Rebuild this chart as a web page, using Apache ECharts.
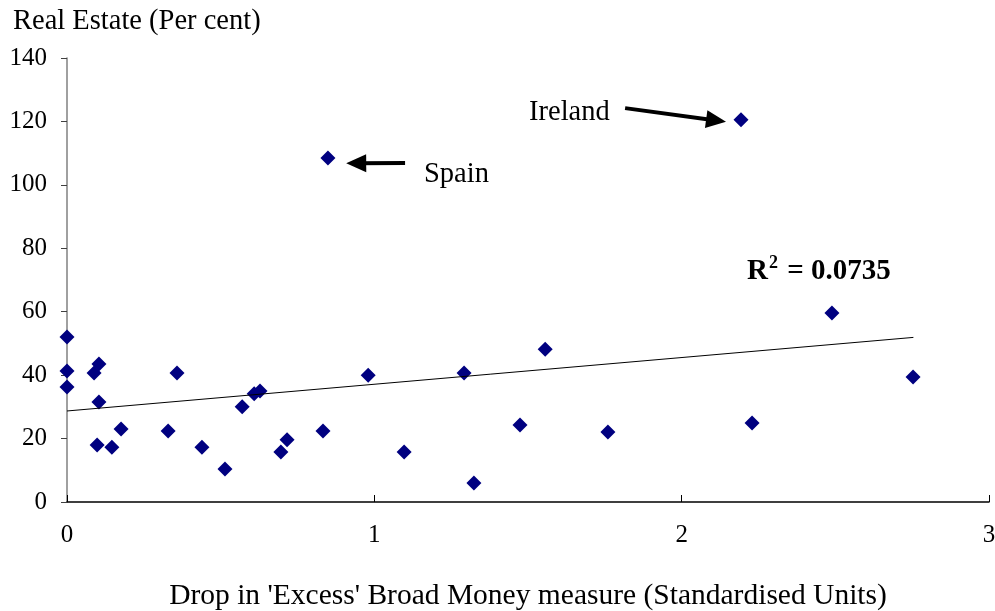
<!DOCTYPE html>
<html>
<head>
<meta charset="utf-8">
<script src="https://cdn.jsdelivr.net/npm/echarts@6/dist/echarts.min.js"></script>
<style>
  html, body { margin: 0; padding: 0; background: #fff; }
  #chart { width: 995px; height: 611px; }
</style>
</head>
<body>
<div id="chart"></div>
<script>
// drop in excess broad money (x) vs real estate change (y)
var moneyDrop = [0, 0, 0, 0.088, 0.104, 0.104, 0.098, 0.146, 0.176, 0.329, 0.358,
                 0.439, 0.514, 0.57, 0.609, 0.628, 0.696, 0.716, 0.833, 0.849, 0.98,
                 1.097, 1.292, 1.324, 1.474, 1.556, 1.76, 2.193, 2.229, 2.489, 2.753];
var realEstate = [52.0, 41.3, 36.3, 40.7, 43.5, 31.5, 18.0, 17.3, 23.0, 22.4, 40.7,
                  17.3, 10.4, 30.0, 34.1, 35.0, 15.8, 19.6, 22.4, 108.5, 40.0,
                  15.8, 40.7, 6.0, 24.3, 48.2, 22.1, 120.5, 24.9, 59.6, 39.4];
// linear trend (start / end)
var trendX = [0, 2.754];
var trendY = [28.7, 51.9];
// annotation arrows: [fromX, fromY, toX, toY]
var irelandArrow = [1.816, 124.2, 2.112, 120.3];
var spainArrow = [1.100, 106.9, 0.941, 106.8];

var font = '"Liberation Serif", "Times New Roman", serif';

var points = moneyDrop.map(function (x, i) { return [x, realEstate[i]]; });
var trend = trendX.map(function (x, i) { return [x, trendY[i]]; });

function arrow(a) {
  return [{ coord: [a[0], a[1]] }, { coord: [a[2], a[3]] }];
}

myChart = echarts.init(document.getElementById('chart'));

option = {
  animation: false,
  backgroundColor: '#fff',
  grid: { left: 67, right: 6, top: 58, bottom: 109, outerBoundsMode: 'none', containLabel: false },
  xAxis: {
    type: 'value',
    min: 0, max: 3, interval: 1,
    splitLine: { show: false },
    axisLine: { onZero: false, lineStyle: { color: '#000', width: 1.5 } },
    axisTick: { inside: true, length: 7, lineStyle: { color: '#000' } },
    axisLabel: { color: '#000', fontFamily: font, fontSize: 25, margin: 21 },
    name: "Drop in 'Excess' Broad Money measure (Standardised Units)",
    nameLocation: 'middle',
    nameGap: 79,
    nameTextStyle: { color: '#000', fontFamily: font, fontSize: 29.5 }
  },
  yAxis: {
    type: 'value',
    min: 0, max: 140, interval: 20,
    splitLine: { show: false },
    axisLine: { onZero: false, lineStyle: { color: '#808080', width: 1.5 } },
    axisTick: { length: 6, lineStyle: { color: '#404040' } },
    axisLabel: { color: '#000', fontFamily: font, fontSize: 25, margin: 20 }
  },
  series: [
    {
      type: 'line',
      data: trend,
      showSymbol: false,
      symbol: 'none',
      lineStyle: { color: '#000', width: 1 },
      silent: true,
      markLine: {
        silent: true,
        symbol: ['none', 'triangle'],
        symbolSize: [18, 20],
        label: { show: false },
        lineStyle: { color: '#000', width: 4, type: 'solid' },
        data: [arrow(irelandArrow), arrow(spainArrow)]
      }
    },
    {
      type: 'scatter',
      data: points,
      symbol: 'diamond',
      symbolSize: 15,
      itemStyle: { color: '#000080', opacity: 1 }
    }
  ],
  graphic: [
    { type: 'text', left: 13, top: 7,
      style: { text: 'Real Estate (Per cent)', fontFamily: font, fontSize: 28.5, fill: '#000' } },
    { type: 'text', left: 529, top: 98,
      style: { text: 'Ireland', fontFamily: font, fontSize: 28.5, fill: '#000' } },
    { type: 'text', left: 424, top: 160,
      style: { text: 'Spain', fontFamily: font, fontSize: 28.5, fill: '#000' } },
    { type: 'text', left: 747, top: 254,
      style: {
        text: '{r|R}{s|2}{r| = 0.0735}',
        rich: {
          r: { fontFamily: font, fontSize: 29, fontWeight: 'bold', fill: '#000', verticalAlign: 'bottom' },
          s: { fontFamily: font, fontSize: 18, fontWeight: 'bold', fill: '#000', verticalAlign: 'top', padding: [0, 2, 14, 1] }
        }
      } }
  ]
};
option && myChart.setOption(option);
</script>
</body>
</html>
